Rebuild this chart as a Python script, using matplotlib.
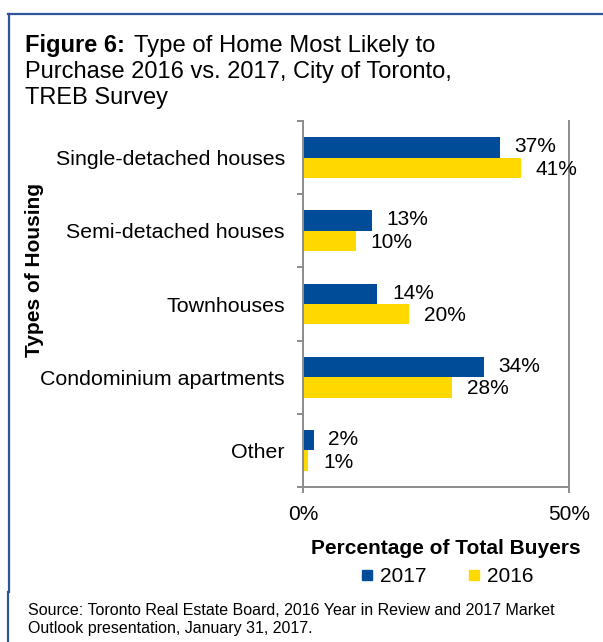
import matplotlib.pyplot as plt
from matplotlib.lines import Line2D

plt.rcParams['font.family'] = ['Liberation Sans', 'DejaVu Sans']

# survey shares, percent of buyers
categories = ["Single-detached houses", "Semi-detached houses", "Townhouses",
              "Condominium apartments", "Other"]
share_2017 = [37, 13, 14, 34, 2]
share_2016 = [41, 10, 20, 28, 1]
years = ["2017", "2016"]
x_ticks = [0, 50]
x_ticklabels = ["0%", "50%"]

blue = "#004c99"
yellow = "#ffd800"
grey = "#8c8c8c"
frame = "#2f5597"

W, H = 603, 642
fig = plt.figure(figsize=(W / 100, H / 100), dpi=100)


def fx(px):
    return px / W


def fy(py):
    return 1 - py / H


ax = fig.add_axes([fx(303), fy(487), fx(569) - fx(303), fy(121) - fy(487)])

pos = list(range(len(categories)))
h = 0.28
ax.barh([p - h / 2 for p in pos], share_2017, height=h, color=blue)
ax.barh([p + h / 2 for p in pos], share_2016, height=h, color=yellow)

for p, v in zip(pos, share_2017):
    ax.annotate(f"{v}%", (v, p - h / 2), xytext=(10.5, 0.5), textcoords="offset points",
                ha="left", va="center", fontsize=15)
for p, v in zip(pos, share_2016):
    ax.annotate(f"{v}%", (v, p + h / 2), xytext=(10.5, -1), textcoords="offset points",
                ha="left", va="center", fontsize=15)

ax.set_xlim(0, 50)
ax.set_ylim(len(categories) - 0.5, -0.5)

ax.spines["top"].set_visible(False)
for s in ["left", "bottom", "right"]:
    ax.spines[s].set_color(grey)
    ax.spines[s].set_linewidth(1.4)

ax.set_xticks(x_ticks)
ax.set_xticklabels(x_ticklabels, fontsize=15)
ax.tick_params(axis="x", direction="out", length=4.3, width=1.4, color=grey, pad=9)
ax.set_yticks(pos)
ax.set_yticklabels(categories, fontsize=15.4)
ax.set_yticks([p - 0.5 for p in range(len(categories) + 1)], minor=True)
ax.tick_params(axis="y", which="major", length=0, pad=13)
ax.tick_params(axis="y", which="minor", direction="out", length=4.3, width=1.4, color=grey)

ax.set_xlabel("Percentage of Total Buyers", fontsize=15, fontweight="bold", va="center")
ax.xaxis.set_label_coords((446 - 303) / 266, (487 - 548) / 366)
ax.set_ylabel("Types of Housing", fontsize=15, fontweight="bold", va="center")
ax.yaxis.set_label_coords((35 - 303) / 266, (487 - 270) / 366)

handles = [Line2D([], [], marker="s", ls="", color=c, markersize=7.5) for c in (blue, yellow)]
fig.legend(handles, years, loc="center", bbox_to_anchor=(fx(447), fy(577)), ncol=2,
           frameon=False, fontsize=15, handlelength=0.6, handletextpad=0.3,
           columnspacing=2.0, borderpad=0)

# title block
fig.text(fx(25), fy(52), "Figure 6:", fontsize=17, fontweight="bold", va="baseline")
fig.text(fx(134), fy(52), "Type of Home Most Likely to", fontsize=17.2, va="baseline")
fig.text(fx(25), fy(78), "Purchase 2016 vs. 2017, City of Toronto,", fontsize=17, va="baseline")
fig.text(fx(25), fy(104), "TREB Survey", fontsize=17, va="baseline")

fig.text(fx(28), fy(615), "Source: Toronto Real Estate Board, 2016 Year in Review and 2017 Market",
         fontsize=11.5, va="baseline")
fig.text(fx(28), fy(633), "Outlook presentation, January 31, 2017.", fontsize=11.5, va="baseline")

# frame lines
fig.add_artist(Line2D([fx(8), 1], [fy(14), fy(14)], color=frame, lw=1.6))
fig.add_artist(Line2D([fx(9), fx(9)], [fy(14), fy(592)], color=frame, lw=1.6))
fig.add_artist(Line2D([fx(8), fx(8)], [fy(592), 0], color=frame, lw=1.6))

fig.savefig("out.png", dpi=100)
